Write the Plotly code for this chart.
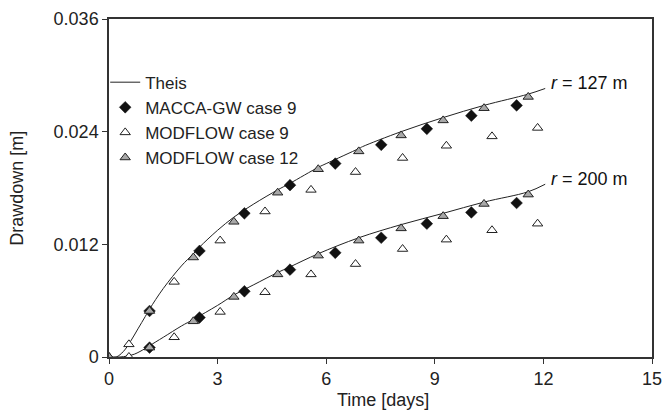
import plotly.graph_objects as go

# Theis curves
theis_t_127 = [0, 0.2, 0.4, 0.6, 0.8, 1.0, 1.12, 1.5, 2.0, 2.33, 2.5, 3.0, 3.45, 4.0, 4.66, 5.0, 5.78, 6.0, 6.9, 7.0, 8.07, 9.23, 10.36, 11.58, 12.05]
theis_s_127 = [0, 0.0, 0.0006, 0.0017, 0.0030, 0.0043, 0.0051, 0.0073, 0.0097, 0.0110, 0.0117, 0.0135, 0.0149, 0.0163, 0.0178, 0.0185, 0.0202, 0.0206, 0.0222, 0.0224, 0.0240, 0.0255, 0.0268, 0.0280, 0.0286]
theis_t_200 = [0, 0.3, 0.5, 0.7, 1.0, 1.12, 1.5, 2.0, 2.33, 3.0, 3.45, 4.0, 4.66, 5.0, 5.78, 6.9, 8.07, 9.23, 10.36, 11.58, 12.05]
theis_s_200 = [0, 0.0, 0.0001, 0.0003, 0.0009, 0.0012, 0.0021, 0.0033, 0.0040, 0.0055, 0.0066, 0.0077, 0.0090, 0.0096, 0.0110, 0.0127, 0.0141, 0.0153, 0.0165, 0.0176, 0.0184]

# MACCA-GW case 9
macca_t = [1.12, 2.50, 3.74, 5.0, 6.25, 7.52, 8.78, 10.01, 11.26]
macca_127 = [0.0049, 0.0113, 0.0153, 0.0183, 0.0206, 0.0226, 0.0243, 0.0257, 0.0268]
macca_200 = [0.0010, 0.0042, 0.0070, 0.0093, 0.0111, 0.0127, 0.0142, 0.0154, 0.0164]

# MODFLOW case 9
mf9_t = [0.55, 1.80, 3.07, 4.31, 5.58, 6.81, 8.11, 9.32, 10.58, 11.84]
mf9_127 = [0.00135, 0.0080, 0.0124, 0.0155, 0.0178, 0.0197, 0.0212, 0.0225, 0.0235, 0.0244]
mf9_200 = [0.0, 0.0021, 0.0048, 0.0069, 0.0088, 0.0099, 0.0115, 0.0125, 0.0135, 0.0142]

# MODFLOW case 12
mf12_t = [0, 1.12, 2.33, 3.45, 4.66, 5.78, 6.90, 8.07, 9.23, 10.36, 11.58]
mf12_127 = [0, 0.0049, 0.0106, 0.0144, 0.0175, 0.0200, 0.0219, 0.0236, 0.0252, 0.0265, 0.0277]
mf12_200 = [0, 0.0010, 0.0038, 0.0064, 0.0088, 0.0108, 0.0124, 0.0137, 0.0150, 0.0163, 0.0173]

x_ticks = [0, 3, 6, 9, 12, 15]
y_ticks = [0, 0.012, 0.024, 0.036]
y_ticktext = ["0", "0.012", "0.024", "0.036"]

FONT = "Liberation Sans, Arial, sans-serif"
dark = "#222222"

fig = go.Figure()
fig.add_trace(go.Scatter(x=theis_t_127, y=theis_s_127, mode="lines", name="Theis",
                         line=dict(color=dark, width=1, shape="spline"), legendgroup="theis"))
fig.add_trace(go.Scatter(x=theis_t_200, y=theis_s_200, mode="lines", name="Theis", showlegend=False,
                         line=dict(color=dark, width=1, shape="spline"), legendgroup="theis"))

fig.add_trace(go.Scatter(x=macca_t + macca_t, y=macca_127 + macca_200, mode="markers",
                         name="MACCA-GW case 9",
                         marker=dict(symbol="diamond", size=9, color="#111111",
                                     line=dict(color="#111111", width=0.5))))
fig.add_trace(go.Scatter(x=mf9_t + mf9_t, y=mf9_127 + mf9_200, mode="markers",
                         name="MODFLOW case 9",
                         marker=dict(symbol="triangle-up", size=9, color="white",
                                     line=dict(color=dark, width=1))))
fig.add_trace(go.Scatter(x=mf12_t + mf12_t, y=mf12_127 + mf12_200, mode="markers",
                         name="MODFLOW case 12",
                         marker=dict(symbol="triangle-up", size=9, color="#a8a8a8",
                                     line=dict(color=dark, width=1))))

fig.add_annotation(x=12.15, y=theis_s_127[-1] + 0.0006, text="<i>r</i> = 127 m", showarrow=False,
                   xanchor="left", yanchor="middle", font=dict(size=18, color="#111", family=FONT))
fig.add_annotation(x=12.15, y=theis_s_200[-1] + 0.0006, text="<i>r</i> = 200 m", showarrow=False,
                   xanchor="left", yanchor="middle", font=dict(size=18, color="#111", family=FONT))

# axis titles as annotations for exact placement
fig.add_annotation(xref="paper", yref="paper", x=-0.17, y=0.5, text="Drawdown [m]", textangle=-90,
                   showarrow=False, xanchor="center", yanchor="middle",
                   font=dict(size=18, color="#222", family=FONT))
fig.add_annotation(xref="paper", yref="paper", x=0.505, y=-0.127, text="Time [days]",
                   showarrow=False, xanchor="center", yanchor="middle",
                   font=dict(size=18, color="#222", family=FONT))

axis_common = dict(showline=True, linecolor="#333333", linewidth=1.5, mirror=True,
                   ticks="outside", ticklen=5, tickcolor="#333333", tickwidth=1,
                   showgrid=False, zeroline=False, automargin=False,
                   tickfont=dict(size=18, color="#222", family=FONT))

fig.update_xaxes(range=[0, 15], tickvals=x_ticks, **axis_common)
fig.update_yaxes(range=[0, 0.036], tickvals=y_ticks, ticktext=y_ticktext, **axis_common)

fig.update_layout(width=664, height=418, margin=dict(l=109, r=12, t=19, b=61, autoexpand=False),
                  plot_bgcolor="white", paper_bgcolor="white",
                  font=dict(family=FONT, size=17, color="#222"),
                  legend=dict(x=-0.007, y=0.865, xanchor="left", yanchor="top",
                              bgcolor="rgba(0,0,0,0)", font=dict(size=17, family=FONT),
                              itemwidth=30, tracegroupgap=0))

fig.write_html("out.html", config={"displayModeBar": False},
               post_script="document.body.style.margin='0';document.body.style.overflow='hidden';")
